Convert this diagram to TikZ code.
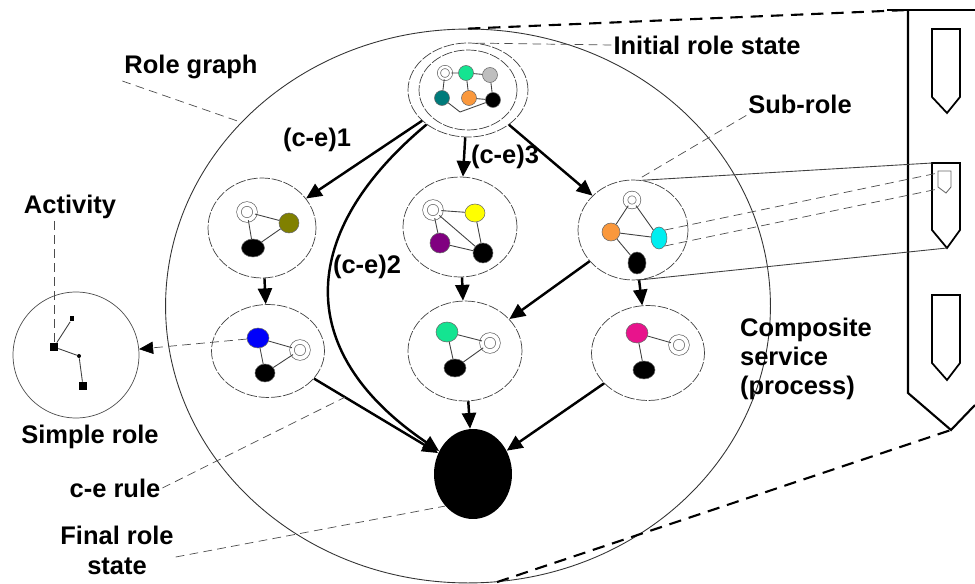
\documentclass[tikz,border=0pt]{standalone}
\usepackage{fontspec}
\setmainfont{Liberation Sans}
\usetikzlibrary{shapes.geometric,arrows.meta}

\definecolor{mint}{RGB}{20,228,145}
\definecolor{lgray}{RGB}{190,190,190}
\definecolor{teal}{RGB}{0,122,122}
\definecolor{orng}{RGB}{250,152,60}
\definecolor{olv}{RGB}{128,128,0}
\definecolor{ylw}{RGB}{255,255,0}
\definecolor{prp}{RGB}{128,0,128}
\definecolor{cyn}{RGB}{0,238,240}
\definecolor{blu}{RGB}{0,0,250}
\definecolor{pnk}{RGB}{232,20,140}

\begin{document}
\begin{tikzpicture}[x=0.02cm,y=-0.02cm]
  \tikzset{ rs/.style={ellipse,draw=black!75,dash pattern=on 6pt off 1pt,line width=0.4pt,inner sep=0pt},
    sv/.style={circle,draw=black!60,line width=0.3pt,inner sep=0pt,minimum size=0.4cm},
    wv/.style={circle,draw=black!60,line width=0.4pt,double,double distance=2.2pt,inner sep=0pt,minimum size=0.32cm},
    ln/.style={draw=black!75,line width=0.5pt},
    arr/.style={line width=1.4pt,-{Triangle[length=9pt,width=8pt]}},
    lead/.style={draw=black!70,line width=0.4pt,dash pattern=on 5pt off 3pt},
    zm/.style={line width=1.2pt,dash pattern=on 7pt off 4.5pt},
    lbl/.style={font=\bfseries\fontsize{14.5}{16.5}\selectfont,inner sep=1pt},
    sq/.style={rectangle,fill=black,inner sep=0pt,minimum size=0.16cm},
  }
  \useasboundingbox (0,0) rectangle (975,584);

  % role graph
  \node (graph) [ellipse,draw=black!80,line width=0.5pt,minimum width=12.1cm,minimum height=11.08cm] at (468,306) {};

  % initial role state
  \node (init) [rs,minimum width=2.4cm,minimum height=1.88cm] at (468,90) {};
  \node (initin) [rs,minimum width=1.96cm,minimum height=1.6cm] at (468,90) {};
  \node (i1) [wv,minimum size=0.24cm,double distance=1.4pt] at (445,73) {};
  \node (i2) [sv,fill=mint,minimum size=0.3cm] at (466,73) {};
  \node (i3) [sv,fill=lgray,minimum size=0.3cm] at (490,75) {};
  \node (i4) [sv,fill=teal,minimum size=0.3cm] at (442,98) {};
  \node (i5) [sv,fill=orng,minimum size=0.3cm] at (469,98) {};
  \node (i6) [sv,fill=black,minimum size=0.3cm] at (493,100) {};
  \coordinate (kink) at (460,112);
  \draw[ln] (i1) -- (i2) (i2) -- (i3) (i1) -- (i4) (i2) -- (i5) (i3) -- (i6) (i5) -- (i6);
  \draw[ln] (i4) -- (kink) -- (i6);

  % intermediate role states
  \node (rA) [rs,minimum width=2.16cm,minimum height=2cm] at (262,228) {};
  \node (a1) [wv] at (247,212) {};
  \node (a2) [sv,fill=olv] at (289,223) {};
  \node (a3) [sv,ellipse,fill=black,minimum width=0.46cm,minimum height=0.36cm] at (253,248) {};
  \draw[ln] (a1) -- (a2) (a1) -- (a3) (a2) -- (a3);

  \node (rB) [rs,minimum width=2.28cm,minimum height=2cm] at (460,227) {};
  \node (b1) [wv] at (433,210) {};
  \node (b2) [sv,ellipse,fill=ylw,minimum width=0.4cm,minimum height=0.36cm] at (475,213) {};
  \node (b3) [sv,fill=prp] at (440,243) {};
  \node (b4) [sv,fill=black] at (483,253) {};
  \draw[ln] (b1) -- (b2) (b1) -- (b4) (b1) -- (b3) (b2) -- (b4) (b3) -- (b4);

  \node (rC) [rs,minimum width=2.2cm,minimum height=2cm] at (633,230) {};
  \node (c1) [wv,minimum size=0.26cm] at (632,200) {};
  \node (c2) [sv,fill=orng,minimum size=0.36cm] at (611,232) {};
  \node (c3) [sv,ellipse,fill=cyn,minimum width=0.32cm,minimum height=0.44cm] at (659,238) {};
  \node (c4) [sv,ellipse,fill=black,minimum width=0.36cm,minimum height=0.44cm] at (637,263) {};
  \draw[ln] (c1) -- (c2) (c1) -- (c3) (c2) -- (c3) (c2) -- (c4);

  \node (rD) [rs,minimum width=2.26cm,minimum height=1.86cm] at (268,351) {};
  \node (d1) [sv,ellipse,fill=blu,minimum width=0.44cm,minimum height=0.4cm] at (258,338) {};
  \node (d2) [wv] at (300,350) {};
  \node (d3) [sv,ellipse,fill=black,minimum width=0.4cm,minimum height=0.36cm] at (265,373) {};
  \draw[ln] (d1) -- (d2) (d1) -- (d3) (d2) -- (d3);

  \node (rE) [rs,minimum width=2.28cm,minimum height=2cm] at (465,351) {};
  \node (e1) [sv,ellipse,fill=mint,minimum width=0.44cm,minimum height=0.4cm] at (447,332) {};
  \node (e2) [wv] at (490,343) {};
  \node (e3) [sv,ellipse,fill=black,minimum width=0.44cm,minimum height=0.36cm] at (455,368) {};
  \draw[ln] (e1) -- (e2) (e1) -- (e3) (e2) -- (e3);

  \node (rF) [rs,minimum width=2.26cm,minimum height=1.9cm] at (648,353) {};
  \node (f1) [sv,ellipse,fill=pnk,minimum width=0.44cm,minimum height=0.4cm] at (637,333) {};
  \node (f2) [wv] at (679,345) {};
  \node (f3) [sv,ellipse,fill=black,minimum width=0.44cm,minimum height=0.36cm] at (644,370) {};
  \draw[ln] (f1) -- (f2) (f1) -- (f3);

  % final role state
  \node (fin) [ellipse,fill=black,minimum width=1.56cm,minimum height=1.8cm] at (473,474) {};

  % c-e rules
  \draw[arr] (init) -- (rA);
  \draw[arr] (init) .. controls (300,230) and (290,350) .. (fin);
  \draw[arr] (init) -- (rB);
  \draw[arr] (init) -- (rC);
  \draw[arr] (rA) -- (rD);
  \draw[arr] (rB) -- (rE);
  \draw[arr] (rC) -- (rE);
  \draw[arr] (rC) -- (rF);
  \draw[arr] (rD) -- coordinate[pos=0.25] (cept) (fin);
  \draw[arr] (rE) -- (fin);
  \draw[arr] (rF) -- (fin);

  % simple role
  \node (simple) [circle,draw=black!70,line width=0.4pt,minimum size=2.52cm] at (76,355) {};
  \node (s1) [sq] at (54,347) {};
  \node (s2) [sq,minimum size=0.1cm] at (72,319) {};
  \node (s3) [circle,fill=black,inner sep=0pt,minimum size=0.08cm] at (79,356) {};
  \node (s4) [sq] at (83,386) {};
  \draw[ln] (s1) -- (s2) (s1) -- (s3) (s3) -- (s4);
  \draw[lead,-{Triangle[length=8pt,width=7pt,black]}] (d1) -- (simple);

  % composite service (process)
  \draw[line width=1.2pt] (887,10) -- (975,10);
  \coordinate (ptop) at (908,10);
  \coordinate (ptip) at (951,430);
  \draw[line width=1.2pt] (ptop) -- (908,393) -- (ptip) -- (975,405);
  \draw[line width=1pt] (932,29) -- (960,29) -- (960,97) -- (947,113) -- (932,97) -- cycle;
  \draw[line width=1pt] (932,163) -- (960,163) -- (960,230) -- (947,248) -- (932,230) -- cycle;
  \draw[line width=1pt] (932,295) -- (960,295) -- (960,363) -- (947,380) -- (932,363) -- cycle;
  \draw[draw=black!60,line width=0.5pt] (938,171) -- (951,171) -- (951,187) -- (946,193) -- (938,187) -- cycle;
  \coordinate (pg) at (932,163);
  \coordinate (pgtip) at (947,248);
  \coordinate (spa) at (938,173);
  \coordinate (spb) at (938,189);
  \draw[ln] (rC.80) -- (pg);
  \draw[ln] (rC.275) -- (pgtip);
  \draw[lead] (c3.north east) -- (spa);
  \draw[lead] (c3.south east) -- (spb);
  \draw[zm] (graph.north) -- (ptop);
  \draw[zm] (graph.276) -- (ptip);

  % labels
  \node (rglbl) [lbl] at (191,67) {Role graph};
  \node (inilbl) [lbl] at (707,45) {Initial role state};
  \node (sublbl) [lbl] at (800,104) {Sub-role};
  \node (actlbl) [lbl] at (70,207) {Activity};
  \node (ce1) [lbl] at (317,140) {(c-e)1};
  \node (ce3) [lbl] at (505,157) {(c-e)3};
  \node (ce2) [lbl] at (367,267) {(c-e)2};
  \node (cslbl) [lbl,anchor=north west,align=left] at (738,316) {Composite\\service\\(process)};
  \node (srlbl) [lbl] at (90,437) {Simple role};
  \node (celbl) [lbl] at (115,488) {c-e rule};
  \node (frlbl) [lbl,align=center,font=\bfseries\fontsize{14.5}{17}\selectfont] at (117,550) {Final role\\state};

  % leaders
  \draw[lead] (rglbl.south west) -- (graph.141);
  \draw[lead] (inilbl.west) -- (init.80);
  \draw[lead] (sublbl.south west) -- (rC.85);
  \draw[lead] (actlbl.south -| s1) -- (s1);
  \draw[lead] (celbl.east) -- (cept);
  \draw[lead] (frlbl.east |- 0,557) -- (fin.south west);
\end{tikzpicture}
\end{document}
